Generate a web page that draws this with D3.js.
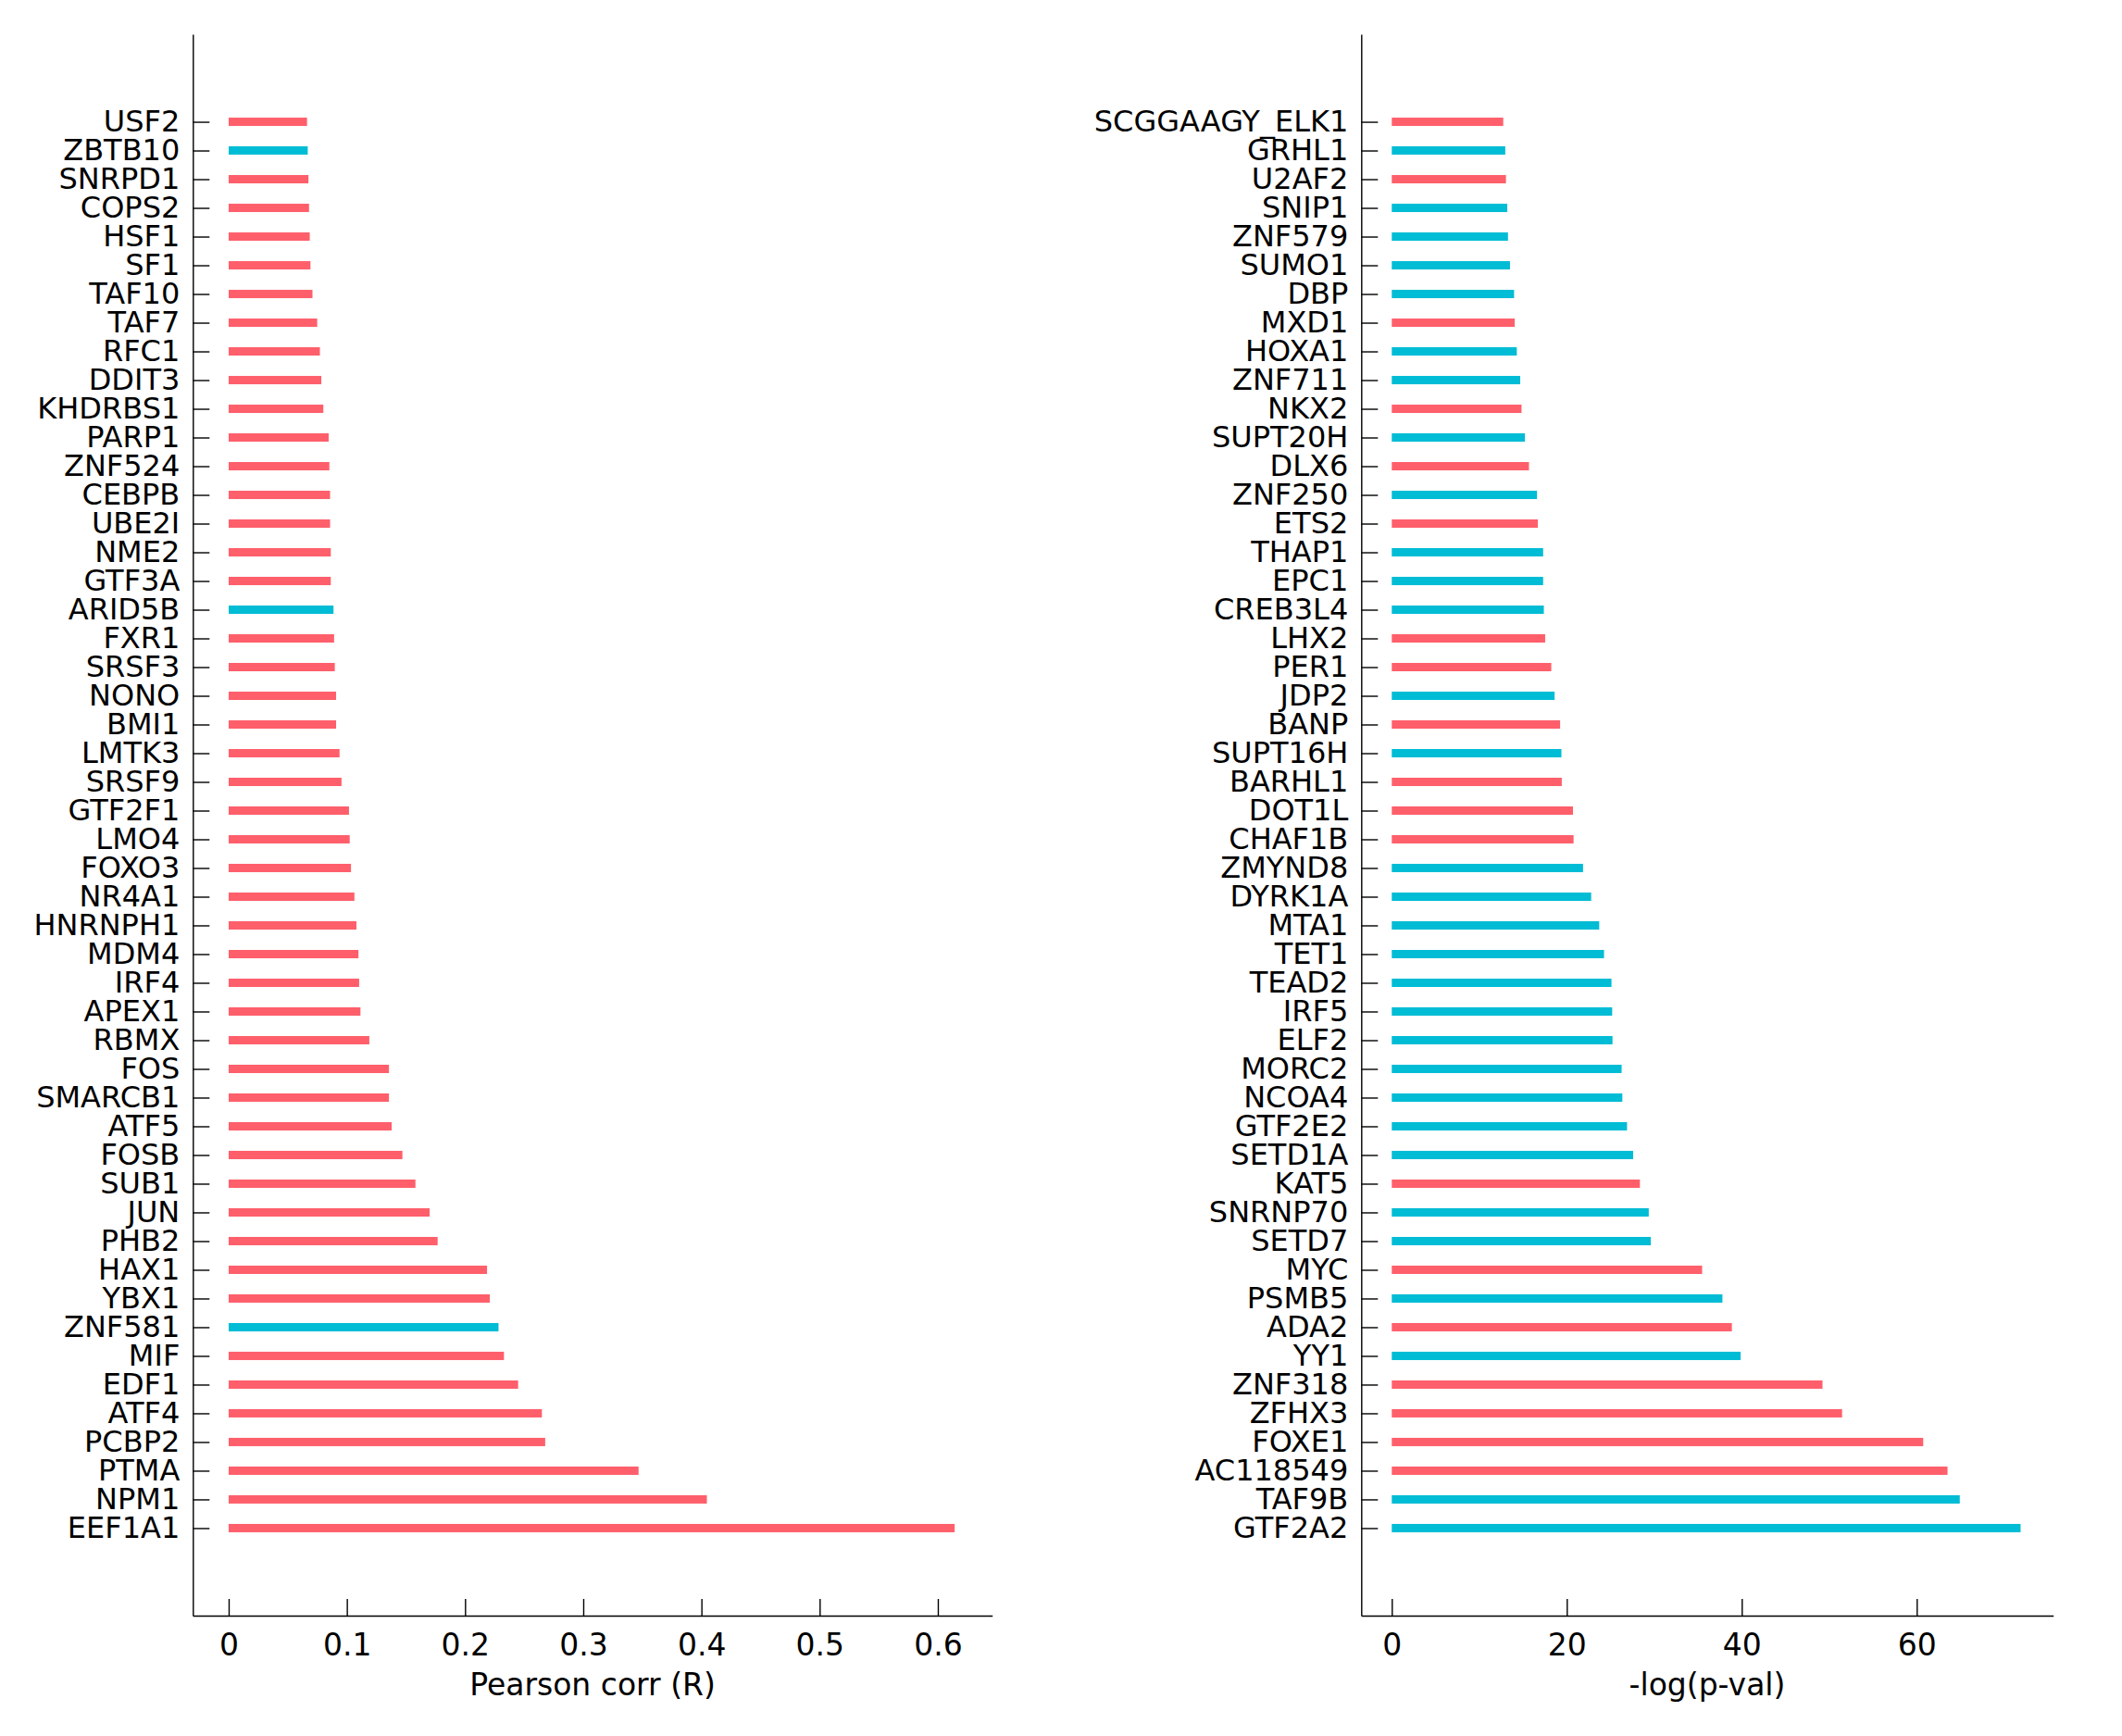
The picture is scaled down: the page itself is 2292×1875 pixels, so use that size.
<!DOCTYPE html>
<html>
<head>
<meta charset="utf-8">
<script src="https://cdn.jsdelivr.net/npm/d3@7"></script>
<style>
  body { margin: 0; background: #fff; }
  text { font-family: "DejaVu Sans", sans-serif; fill: #000; }
</style>
</head>
<body>
<div id="chart-area"></div>
<script>
// left panel: Pearson correlation
const corrNames = ["USF2","ZBTB10","SNRPD1","COPS2","HSF1","SF1","TAF10","TAF7","RFC1","DDIT3",
  "KHDRBS1","PARP1","ZNF524","CEBPB","UBE2I","NME2","GTF3A","ARID5B","FXR1","SRSF3",
  "NONO","BMI1","LMTK3","SRSF9","GTF2F1","LMO4","FOXO3","NR4A1","HNRNPH1","MDM4",
  "IRF4","APEX1","RBMX","FOS","SMARCB1","ATF5","FOSB","SUB1","JUN","PHB2",
  "HAX1","YBX1","ZNF581","MIF","EDF1","ATF4","PCBP2","PTMA","NPM1","EEF1A1"];
const corrValues = [0.0663,0.0669,0.0675,0.068,0.0686,0.0692,0.0709,0.0749,0.0772,0.0784,
  0.0801,0.0846,0.0852,0.0858,0.0858,0.0864,0.0864,0.0887,0.0892,0.0898,
  0.0909,0.0909,0.0938,0.0955,0.1018,0.1024,0.1035,0.1064,0.1081,0.1098,
  0.1104,0.1115,0.119,0.1356,0.1356,0.1379,0.147,0.158,0.170,0.1768,
  0.2186,0.2209,0.2283,0.2329,0.2449,0.265,0.2678,0.3468,0.4046,0.6142];
const corrGroup = ["a","b","a","a","a","a","a","a","a","a",
  "a","a","a","a","a","a","a","b","a","a",
  "a","a","a","a","a","a","a","a","a","a",
  "a","a","a","a","a","a","a","a","a","a",
  "a","a","b","a","a","a","a","a","a","a"];
const corrTicks = [0, 0.1, 0.2, 0.3, 0.4, 0.5, 0.6];

// right panel: -log(p-value)
const pNames = ["SCGGAAGY_ELK1","GRHL1","U2AF2","SNIP1","ZNF579","SUMO1","DBP","MXD1","HOXA1","ZNF711",
  "NKX2","SUPT20H","DLX6","ZNF250","ETS2","THAP1","EPC1","CREB3L4","LHX2","PER1",
  "JDP2","BANP","SUPT16H","BARHL1","DOT1L","CHAF1B","ZMYND8","DYRK1A","MTA1","TET1",
  "TEAD2","IRF5","ELF2","MORC2","NCOA4","GTF2E2","SETD1A","KAT5","SNRNP70","SETD7",
  "MYC","PSMB5","ADA2","YY1","ZNF318","ZFHX3","FOXE1","AC118549","TAF9B","GTF2A2"];
const pValues = [12.74,12.97,13.05,13.2,13.28,13.51,13.98,14.05,14.29,14.68,
  14.83,15.22,15.68,16.6,16.69,17.3,17.3,17.38,17.53,18.23,
  18.61,19.24,19.39,19.43,20.71,20.78,21.86,22.79,23.71,24.26,
  25.11,25.19,25.23,26.27,26.35,26.89,27.59,28.36,29.37,29.6,
  35.47,37.79,38.87,39.87,49.23,51.47,60.74,63.52,64.92,71.87];
const pGroup = ["a","b","a","b","b","b","b","a","b","b",
  "a","b","a","b","a","b","b","b","a","a",
  "b","a","b","a","a","a","b","b","b","b",
  "b","b","b","b","b","b","b","a","b","b",
  "a","b","a","b","a","a","a","a","b","b"];
const pTicks = [0, 20, 40, 60];

const WIDTH = 2292, HEIGHT = 1875;
const TOP = 37, BOTTOM = 1745;
const color = d3.scaleOrdinal().domain(["a","b"]).range(["#ff5f6b", "#00bcd5"]);

const svg = d3.select("#chart-area").append("svg")
  .attr("width", WIDTH)
  .attr("height", HEIGHT)

function panel(names, values, groups, ticks, xLeft, xRight, xDomain, title) {
  const data = names.map((n, i) => ({ name: n, value: values[i], group: groups[i] }))

  const x = d3.scaleLinear()
    .domain(xDomain)
    .range([xLeft, xRight])

  const y = d3.scalePoint()
    .domain(names)
    .range([TOP, BOTTOM])
    .padding(3.05)

  const g = svg.append("g")

  g.selectAll("rect").data(data)
    .enter().append("rect")
      .attr("x", x(0))
      .attr("y", d => y(d.name) - 4.5)
      .attr("width", d => x(d.value) - x(0))
      .attr("height", 9)
      .attr("fill", d => color(d.group))

  const leftAxis = d3.axisLeft(y)
    .tickSizeInner(-18)
    .tickSizeOuter(0)
    .tickPadding(14)
  const ly = g.append("g")
    .attr("transform", `translate(${xLeft}, 0)`)
    .call(leftAxis)
  ly.selectAll("text").attr("font-size", 32).attr("font-family", "DejaVu Sans")

  const bottomAxis = d3.axisBottom(x)
    .tickValues(ticks)
    .tickFormat(d => String(d))
    .tickSizeInner(-18)
    .tickSizeOuter(0)
    .tickPadding(20)
  const bx = g.append("g")
    .attr("transform", `translate(0, ${BOTTOM})`)
    .call(bottomAxis)
  bx.selectAll("text").attr("font-size", 33).attr("font-family", "DejaVu Sans")

  g.selectAll(".domain, .tick line").attr("stroke", "#000").attr("stroke-width", 1.4)

  g.append("text")
    .attr("x", (xLeft + xRight) / 2)
    .attr("y", 1831)
    .attr("text-anchor", "middle")
    .attr("font-size", 33)
    .text(title)
}

panel(corrNames, corrValues, corrGroup, corrTicks, 208.3, 1071.7, [-0.0303, 0.646], "Pearson corr (R)")
panel(pNames, pValues, pGroup, pTicks, 1470.3, 2217.7, [-3.49, 75.6], "-log(p-val)")
</script>
</body>
</html>
